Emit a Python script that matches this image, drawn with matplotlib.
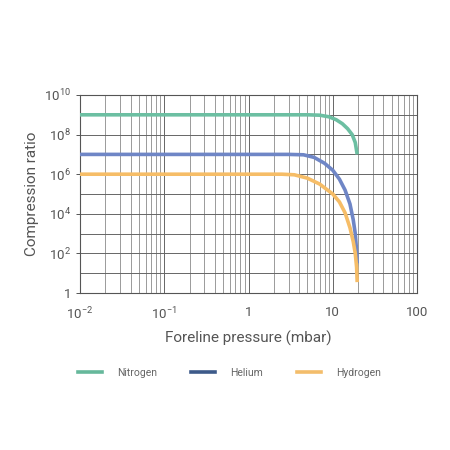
import matplotlib
matplotlib.use("Agg")
import matplotlib.pyplot as plt
from matplotlib.lines import Line2D
from matplotlib.ticker import FixedLocator, LogLocator, NullFormatter

# values (pressure in mbar, log10 of compression ratio)
n2_p = [0.01, 1, 5, 7, 9, 11, 13, 15, 17, 18.5, 19.5]
n2_k = [9, 9, 9, 8.98, 8.9, 8.75, 8.55, 8.3, 8.0, 7.6, 7.0]
he_p = [0.01, 3, 4.5, 6, 8, 10, 12, 14, 16, 17.5, 18.5, 19.3, 19.5]
he_k = [7, 7, 6.98, 6.85, 6.55, 6.2, 5.75, 5.2, 4.5, 3.7, 3.0, 2.0, 1.5]
h2_p = [0.01, 2.5, 3.5, 5, 7, 10, 12, 14, 16, 17.5, 18.5, 19.2, 19.5]
h2_k = [6, 6, 5.97, 5.8, 5.5, 5.0, 4.6, 4.05, 3.3, 2.6, 2.0, 1.3, 0.55]

gases = ["Nitrogen", "Helium", "Hydrogen"]
line_colors = ["#6cbfa2", "#6f86c6", "#f6bd67"]
legend_colors = ["#66b89b", "#3d5a8a", "#f3bd6b"]

xticks = [1e-2, 1e-1, 1, 10, 100]
xticklabels = ["10$^{-2}$", "10$^{-1}$", "1", "10", "100"]
yticks = [1, 1e2, 1e4, 1e6, 1e8, 1e10]
yticklabels = ["1", "10$^{2}$", "10$^{4}$", "10$^{6}$", "10$^{8}$", "10$^{10}$"]

plt.rcParams["font.family"] = ["Roboto", "DejaVu Sans"]
plt.rcParams["mathtext.fontset"] = "custom"
plt.rcParams["mathtext.rm"] = "Roboto"
plt.rcParams["mathtext.it"] = "Roboto"

txt = "#555555"
fig = plt.figure(figsize=(4.5, 4.5), dpi=100)
ax = fig.add_axes([80 / 450, 1 - 293 / 450, 337 / 450, 198 / 450])

for p, k, c in zip([n2_p, he_p, h2_p], [n2_k, he_k, h2_k], line_colors):
    ax.plot(p, [10 ** v for v in k], color=c, lw=2.6, solid_capstyle="butt", zorder=3)

ax.set_xscale("log")
ax.set_yscale("log")
ax.set_xlim(1e-2, 100)
ax.set_ylim(1, 1e10)

ax.set_xticks(xticks)
ax.set_xticklabels(xticklabels)
ax.xaxis.set_minor_locator(LogLocator(base=10, subs=range(2, 10)))
ax.xaxis.set_minor_formatter(NullFormatter())
ax.set_yticks(yticks)
ax.set_yticklabels(yticklabels)
ax.yaxis.set_minor_locator(FixedLocator([10 ** i for i in range(1, 10, 2)]))
ax.yaxis.set_minor_formatter(NullFormatter())

ax.grid(which="major", color="#666666", lw=0.7)
ax.grid(which="minor", axis="x", color="#8a8a8a", lw=0.6)
ax.grid(which="minor", axis="y", color="#666666", lw=0.7)
ax.tick_params(axis="both", which="major", labelsize=9.5, colors=txt, length=3, width=0.7)
ax.tick_params(axis="x", which="major", length=0, pad=9)
ax.tick_params(axis="both", which="minor", length=0)
for s in ax.spines.values():
    s.set_color("#555555")
    s.set_linewidth(0.8)

ax.set_xlabel("Foreline pressure (mbar)", fontsize=11, color=txt, labelpad=6)
ax.set_ylabel("Compression ratio", fontsize=11, color=txt, labelpad=4)

handles = [Line2D([], [], color=c, lw=2.6) for c in legend_colors]
fig.legend(handles, gases, loc="center", bbox_to_anchor=(0.51, 1 - 373 / 450), ncol=3,
           frameon=False, fontsize=7.5, labelcolor="#666666", handlelength=2.3,
           handletextpad=1.45, columnspacing=3.3)

fig.savefig("out.png", dpi=100, facecolor="white")
